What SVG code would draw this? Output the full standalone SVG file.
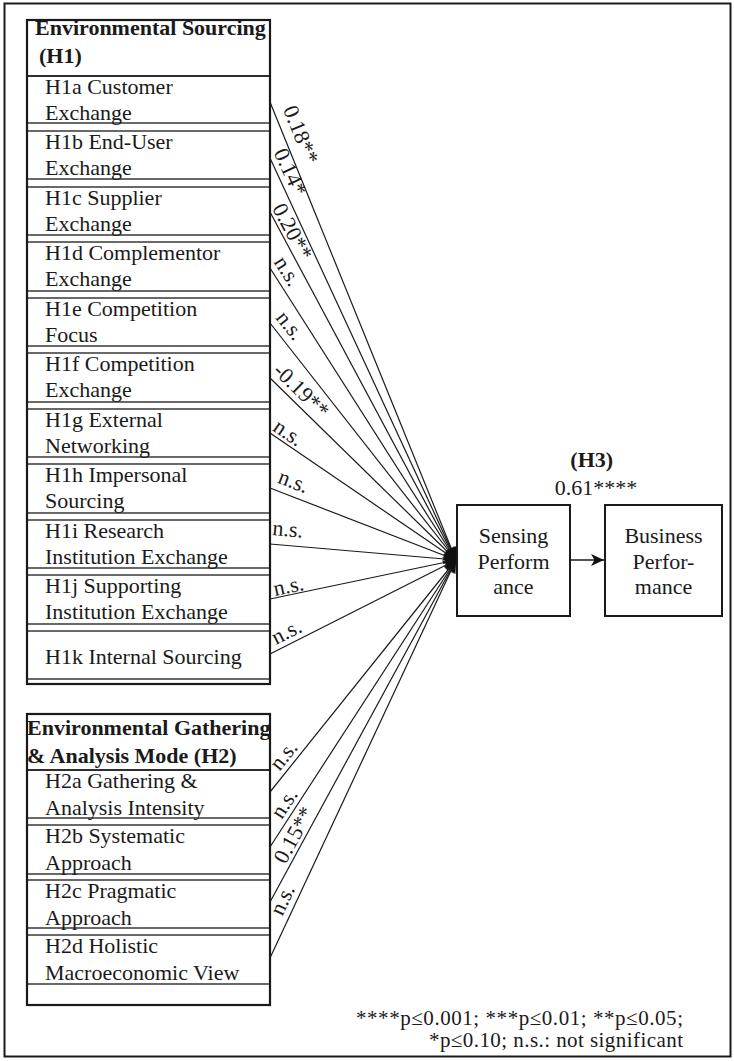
<svg xmlns="http://www.w3.org/2000/svg" width="734" height="1061" viewBox="0 0 734 1061">
<style>
.t{font-family:"Liberation Serif","Times New Roman",serif;font-size:22px;fill:#1a1a1a}
.b{font-weight:bold}
.c{text-anchor:middle}
.row{fill:none;stroke:#1a1a1a;stroke-width:1.3}
.outer{fill:#fff;stroke:#1a1a1a;stroke-width:2.2}
.conn{stroke:#1a1a1a;stroke-width:1.2;fill:none;marker-end:url(#ah)}
.leg{font-size:21px}
</style>
<defs>
<marker id="ah" markerUnits="userSpaceOnUse" markerWidth="13" markerHeight="11" refX="13" refY="5.5" orient="auto">
<path d="M0,0 L13,5.5 L0,11 L3,5.5 z" fill="#111"/>
</marker>
<marker id="ah2" markerUnits="userSpaceOnUse" markerWidth="13" markerHeight="12" refX="13" refY="6" orient="auto">
<path d="M0,0 L13,6 L0,12 L3.5,6 z" fill="#111"/>
</marker>
</defs>
<rect x="0" y="0" width="734" height="1061" fill="#fff"/>
<rect x="4.5" y="3.5" width="726" height="1053" fill="none" stroke="#1a1a1a" stroke-width="2"/>

<g id="H1">
<rect class="outer" x="27" y="20" width="243" height="664"/>
<text class="t b" x="35" y="35">Environmental Sourcing</text>
<text class="t b" x="39" y="63">(H1)</text>
<line class="row" x1="27" y1="76" x2="270" y2="76"/>
</g>
<g id="H1a"><rect class="row" x="27" y="76" width="243" height="47"/><text class="t" x="45" y="94">H1a Customer</text><text class="t" x="45" y="120">Exchange</text></g>
<g id="H1b"><rect class="row" x="27" y="131" width="243" height="48"/><text class="t" x="45" y="149">H1b End-User</text><text class="t" x="45" y="175">Exchange</text></g>
<g id="H1c"><rect class="row" x="27" y="187" width="243" height="48"/><text class="t" x="45" y="205">H1c Supplier</text><text class="t" x="45" y="231">Exchange</text></g>
<g id="H1d"><rect class="row" x="27" y="242" width="243" height="49"/><text class="t" x="45" y="260">H1d Complementor</text><text class="t" x="45" y="286">Exchange</text></g>
<g id="H1e"><rect class="row" x="27" y="298" width="243" height="48"/><text class="t" x="45" y="316">H1e Competition</text><text class="t" x="45" y="342">Focus</text></g>
<g id="H1f"><rect class="row" x="27" y="353" width="243" height="49"/><text class="t" x="45" y="371">H1f Competition</text><text class="t" x="45" y="397">Exchange</text></g>
<g id="H1g"><rect class="row" x="27" y="409" width="243" height="48"/><text class="t" x="45" y="427">H1g External</text><text class="t" x="45" y="453">Networking</text></g>
<g id="H1h"><rect class="row" x="27" y="464" width="243" height="49"/><text class="t" x="45" y="482">H1h Impersonal</text><text class="t" x="45" y="508">Sourcing</text></g>
<g id="H1i"><rect class="row" x="27" y="520" width="243" height="48"/><text class="t" x="45" y="538">H1i Research</text><text class="t" x="45" y="564">Institution Exchange</text></g>
<g id="H1j"><rect class="row" x="27" y="575" width="243" height="49"/><text class="t" x="45" y="593">H1j Supporting</text><text class="t" x="45" y="619">Institution Exchange</text></g>
<g id="H1k"><rect class="row" x="27" y="631" width="243" height="48"/><text class="t" x="45" y="664">H1k Internal Sourcing</text></g>

<g id="H2">
<rect class="outer" x="27" y="714" width="243" height="291"/>
<text class="t b" x="27" y="735">Environmental Gathering</text>
<text class="t b" x="27" y="763">&amp; Analysis Mode (H2)</text>
<line class="row" x1="27" y1="770" x2="270" y2="770"/>
</g>
<g id="H2a"><rect class="row" x="27" y="770" width="243" height="48"/><text class="t" x="45" y="788">H2a Gathering &amp;</text><text class="t" x="45" y="815">Analysis Intensity</text></g>
<g id="H2b"><rect class="row" x="27" y="825" width="243" height="49"/><text class="t" x="45" y="843">H2b Systematic</text><text class="t" x="45" y="870">Approach</text></g>
<g id="H2c"><rect class="row" x="27" y="880" width="243" height="48"/><text class="t" x="45" y="898">H2c Pragmatic</text><text class="t" x="45" y="925">Approach</text></g>
<g id="H2d"><rect class="row" x="27" y="935" width="243" height="49"/><text class="t" x="45" y="953">H2d Holistic</text><text class="t" x="45" y="980">Macroeconomic View</text></g>

<g id="sensing"><rect x="457" y="505" width="113" height="111" fill="#fff" stroke="#1a1a1a" stroke-width="2"/>
<text class="t c" x="513.5" y="543">Sensing</text><text class="t c" x="513.5" y="569">Perform</text><text class="t c" x="513.5" y="594">ance</text></g>
<g id="business"><rect x="605" y="505" width="117" height="111" fill="#fff" stroke="#1a1a1a" stroke-width="2"/>
<text class="t c" x="663.5" y="543">Business</text><text class="t c" x="663.5" y="569">Perfor-</text><text class="t c" x="663.5" y="594">mance</text></g>

<g id="connectors">
<line class="conn" x1="270" y1="102" x2="456" y2="560"/>
<line class="conn" x1="270" y1="158" x2="456" y2="560"/>
<line class="conn" x1="270" y1="212" x2="456" y2="560"/>
<line class="conn" x1="270" y1="268" x2="456" y2="560"/>
<line class="conn" x1="270" y1="323" x2="456" y2="560"/>
<line class="conn" x1="270" y1="378" x2="456" y2="560"/>
<line class="conn" x1="270" y1="433" x2="456" y2="560"/>
<line class="conn" x1="270" y1="488" x2="456" y2="560"/>
<line class="conn" x1="270" y1="544" x2="456" y2="560"/>
<line class="conn" x1="270" y1="599" x2="456" y2="560"/>
<line class="conn" x1="270" y1="654" x2="456" y2="560"/>
<line class="conn" x1="270" y1="792" x2="456" y2="560"/>
<line class="conn" x1="270" y1="847" x2="456" y2="560"/>
<line class="conn" x1="270" y1="902" x2="456" y2="560"/>
<line class="conn" x1="270" y1="958" x2="456" y2="560"/>
<line x1="570" y1="560" x2="604" y2="560" stroke="#1a1a1a" stroke-width="1.5" marker-end="url(#ah2)"/>
<text class="t" transform="translate(282.7,109.3) rotate(67.79)">0.18**</text>
<text class="t" transform="translate(273.3,152.6) rotate(65.05)">0.14*</text>
<text class="t" transform="translate(271.7,208.3) rotate(61.74)">0.20**</text>
<text class="t" transform="translate(273.3,262.1) rotate(57.36)">n.s.</text>
<text class="t" transform="translate(275,317.9) rotate(51.73)">n.s.</text>
<text class="t" transform="translate(272,372) rotate(44.23)">-0.19**</text>
<text class="t" transform="translate(271.7,430) rotate(34.18)">n.s.</text>
<text class="t" transform="translate(276.7,482.6) rotate(21.06)">n.s.</text>
<text class="t" transform="translate(272,535) rotate(4.89)">n.s.</text>
<text class="t" transform="translate(275,596) rotate(-11.78)">n.s.</text>
<text class="t" transform="translate(276,645) rotate(-26.69)">n.s.</text>
<text class="t" transform="translate(279.5,771.7) rotate(-51.13)">n.s.</text>
<text class="t" transform="translate(281.7,820) rotate(-56.92)">n.s.</text>
<text class="t" transform="translate(285.6,865) rotate(-61.33)">0.15**</text>
<text class="t" transform="translate(282.3,916.7) rotate(-64.83)">n.s.</text>
<text class="t b c" x="591.7" y="467">(H3)</text>
<text class="t c" x="596" y="495">0.61****</text>
</g>

<g id="legend">
<text class="t leg" x="683" y="1025" text-anchor="end" textLength="327">****p≤0.001; ***p≤0.01; **p≤0.05;</text>
<text class="t leg" x="683" y="1047" text-anchor="end" textLength="254">*p≤0.10; n.s.: not significant</text>
</g>
</svg>
